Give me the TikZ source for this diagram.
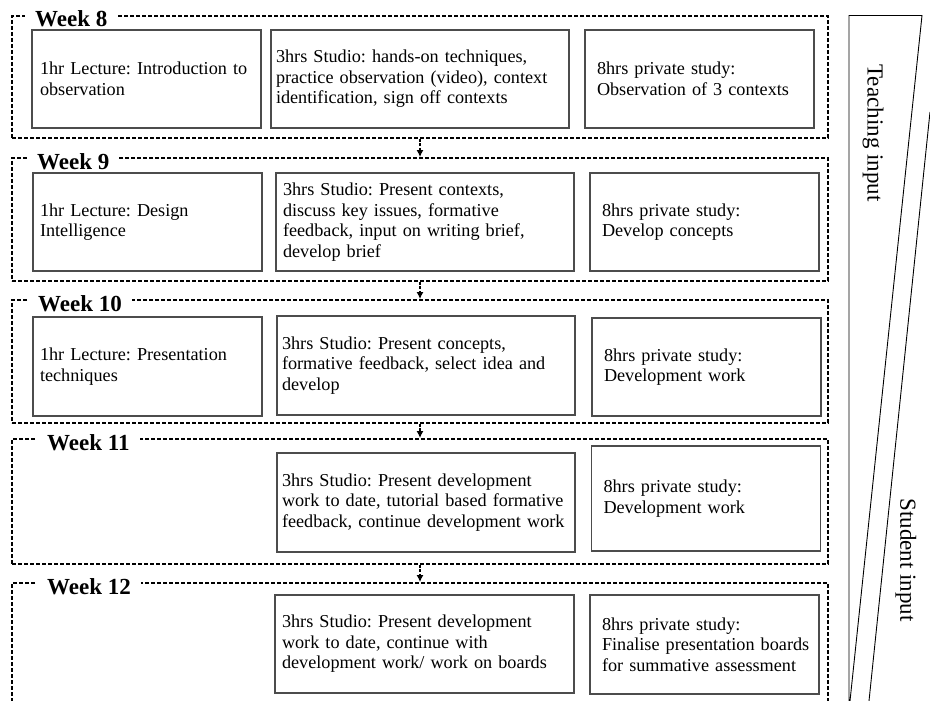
\documentclass[tikz,border=0pt]{standalone}
\usepackage{fontspec}
\setmainfont{Liberation Serif}
\usetikzlibrary{arrows.meta}
\newcommand\actfont{\fontsize{18.2}{20.5}\selectfont\frenchspacing\hyphenpenalty=10000}
\newcommand\weekfont{\fontsize{23}{26}\selectfont\bfseries}

\begin{document}
\begin{tikzpicture}[x=1pt,y=-1pt,
    frame/.style={draw, dash pattern=on 4pt off 2pt, line width=1.8pt, inner sep=0pt, minimum width=816pt},
    act/.style={draw=black!70, line width=1.2pt, align=left, font=\actfont, inner ysep=0pt, minimum height=98pt},
    lec/.style={act, minimum width=229pt, text width=215pt, inner xsep=7pt},
    stu/.style={act, minimum width=298pt, text width=288pt, inner xsep=5pt},
    pri/.style={act, minimum width=229pt, text width=205pt, inner xsep=12pt},
    weeklab/.style={fill=white, font=\weekfont, inner xsep=10pt, inner ysep=3pt, anchor=base west},
    side/.style={font=\fontsize{23}{26}\selectfont, rotate=-90, inner sep=0pt},
    flow/.style={draw, line width=1.4pt, dash pattern=on 3pt off 1.5pt, -{Latex[length=7pt,width=7pt]}}]
    \useasboundingbox (0,0) rectangle (930,701);
    \clip (0,0) rectangle (930,701);

    \node[frame, minimum height=122pt] (w8) at (420,77) {};
    \node[frame, minimum height=123pt] (w9) at (420,219.5) {};
    \node[frame, minimum height=123pt] (w10) at (420,361.5) {};
    \node[frame, minimum height=125pt] (w11) at (420,501.5) {};
    \node[frame, minimum height=137pt] (w12) at (420,651.5) {};

    \node[weeklab] (w8lab) at (25,27) {Week 8\hspace{5pt}};
    \node[weeklab] (w9lab) at (27,169) {Week 9\hspace{6pt}};
    \node[weeklab] (w10lab) at (28,311) {Week 10\hspace{8pt}};
    \node[weeklab] (w11lab) at (37,450) {Week 11\hspace{5pt}};
    \node[weeklab] (w12lab) at (37,594) {Week 12\hspace{5pt}};

    \node[lec, inner xsep=8pt, text width=213pt] (w8lec) at (146.5,79) {1hr Lecture: Introduction to\\observation};
    \node[stu] (w8stu) at (420,79) {3hrs Studio: hands-on techniques,\\practice observation (video), context\\identification, sign off contexts};
    \node[pri] (w8pri) at (699.5,79) {8hrs private study:\\Observation of 3 contexts};

    \node[lec] (w9lec) at (147.5,222) {1hr Lecture: Design\\Intelligence};
    \node[stu, inner xsep=7pt, text width=284pt] (w9stu) at (425,222) {3hrs Studio: Present contexts,\\discuss key issues, formative\\feedback, input on writing brief,\\develop brief};
    \node[pri] (w9pri) at (704.5,222) {8hrs private study:\\Develop concepts};

    \node[lec, minimum height=99pt] (w10lec) at (147.5,366.5) {1hr Lecture: Presentation\\techniques};
    \node[stu, minimum height=99pt] (w10stu) at (426,365.5) {3hrs Studio: Present concepts,\\formative feedback, select idea and\\develop};
    \node[pri] (w10pri) at (706.5,367) {8hrs private study:\\Development work};

    \node[stu, minimum height=99pt] (w11stu) at (426,502.5) {3hrs Studio: Present development\\\mbox{work to date, tutorial based formative}\\\mbox{feedback, continue development work}};
    \node[pri, minimum width=228pt, minimum height=105pt] (w11pri) at (706,498.5) {8hrs private study:\\Development work};

    \node[stu, minimum width=299pt, inner xsep=7pt, text width=285pt] (w12stu) at (424.5,644) {3hrs Studio: Present development\\work to date, continue with\\development work/ work on boards};
    \node[pri, minimum height=99pt] (w12pri) at (704.5,644.5) {8hrs private study:\\\mbox{Finalise presentation boards}\\\mbox{for summative assessment}};

    \draw[flow] (w8.south) -- (w9.north);
    \draw[flow] (w9.south) -- (w10.north);
    \draw[flow] (w10.south) -- (w11.north);
    \draw[flow] (w11.south) -- (w12.north);

    \draw[line width=0.9pt] (849,701) -- (849,15.5) -- (922,15.5) -- (850,701);
    \draw[line width=0.9pt] (930,112) -- (869,701);
    \node[side] (teach) at (873,133) {Teaching input};
    \node[side] (student) at (906,560) {Student input};
\end{tikzpicture}
\end{document}
